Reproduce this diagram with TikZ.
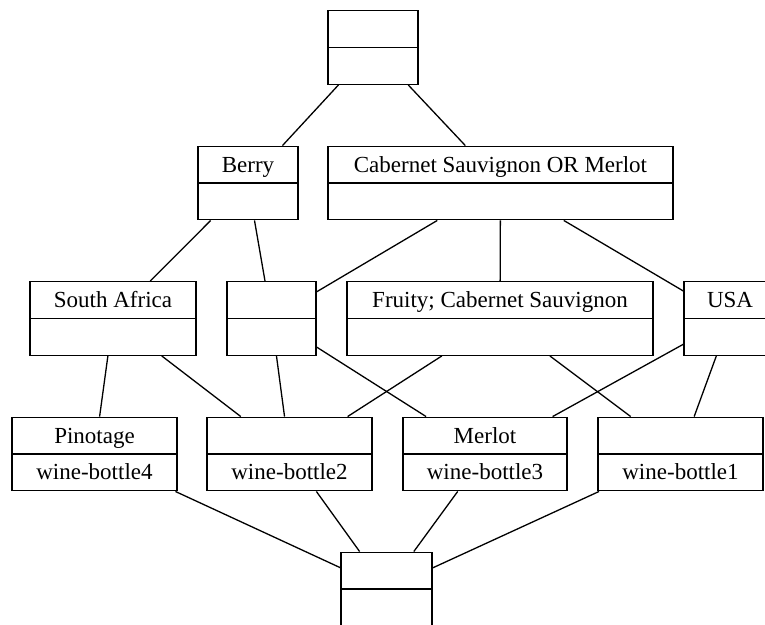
\documentclass[tikz,border=0pt]{standalone}
\usepackage{fontspec}
\setmainfont{Liberation Serif}
\begin{document}
\begin{tikzpicture}[x=1pt,y=-1pt,
  concept/.style={draw, line width=1.4pt, inner sep=0pt, minimum height=73.5pt},
  link/.style={line width=1.3pt},
  uptext/.style={anchor=base, inner sep=0pt, font=\fontsize{23}{27}\selectfont},
  lowtext/.style={anchor=base, inner sep=0pt, font=\fontsize{23}{27}\selectfont}]
\useasboundingbox (0,0) rectangle (765,624);
\clip (0,0) rectangle (765,624);

% concept boxes
\node[concept, minimum width=90pt]  (top)    at (373,47.5)  {};
\node[concept, minimum width=100pt] (berry)  at (248,183)   {};
\node[concept, minimum width=345pt] (cabm)   at (500.5,183) {};
\node[concept, minimum width=166pt] (sa)     at (113,318.5) {};
\node[concept, minimum width=89pt]  (emp)    at (271.5,318.5) {};
\node[concept, minimum width=306pt] (fruity) at (500,318.5) {};
\node[concept, minimum width=92pt]  (usa)    at (730,318.5) {};
\node[concept, minimum width=165pt] (pino)   at (94.5,454)  {};
\node[concept, minimum width=165pt] (wbtwo)  at (289.5,454) {};
\node[concept, minimum width=164pt] (merlot) at (485,454)   {};
\node[concept, minimum width=165pt] (wbone)  at (680.5,454) {};
\node[concept, minimum width=91pt]  (bot)    at (386.5,589) {};

% dividers between intent and extent
\foreach \n in {top,berry,cabm,sa,emp,fruity,usa,pino,wbtwo,merlot,wbone,bot}
  \draw[line width=1.4pt] (\n.west) -- (\n.east);

% labels
\node[uptext] (berry-a)  at ([yshift=11pt]berry.center)  {Berry};
\node[uptext] (cabm-a)   at ([yshift=11pt]cabm.center)   {Cabernet Sauvignon OR Merlot};
\node[uptext] (sa-a)     at ([yshift=11pt]sa.center)     {South Africa};
\node[uptext] (fruity-a) at ([yshift=11pt]fruity.center) {Fruity; Cabernet Sauvignon};
\node[uptext] (usa-a)    at ([yshift=11pt]usa.center)    {USA};
\node[uptext] (pino-a)   at ([yshift=11pt]pino.center)   {Pinotage};
\node[uptext] (merlot-a) at ([yshift=11pt]merlot.center) {Merlot};
\node[lowtext] (pino-b)   at ([yshift=-25pt]pino.center)   {wine-bottle4};
\node[lowtext] (wbtwo-b)  at ([yshift=-25pt]wbtwo.center)  {wine-bottle2};
\node[lowtext] (merlot-b) at ([yshift=-25pt]merlot.center) {wine-bottle3};
\node[lowtext] (wbone-b)  at ([yshift=-25pt]wbone.center)  {wine-bottle1};

% lattice edges
\draw[link] (top) -- (berry);
\draw[link] (top) -- (cabm);
\draw[link] (berry) -- (sa);
\draw[link] (berry) -- (emp);
\draw[link] (cabm) -- (emp);
\draw[link] (cabm) -- (fruity);
\draw[link] (cabm) -- (usa);
\draw[link] (sa) -- (pino);
\draw[link] (sa) -- (wbtwo);
\draw[link] (emp) -- (wbtwo);
\draw[link] (emp) -- (merlot);
\draw[link] (fruity) -- (wbtwo);
\draw[link] (fruity) -- (wbone);
\draw[link] (usa) -- (merlot);
\draw[link] (usa) -- (wbone);
\draw[link] (pino) -- (bot);
\draw[link] (wbtwo) -- (bot);
\draw[link] (merlot) -- (bot);
\draw[link] (wbone) -- (bot);
\end{tikzpicture}
\end{document}
